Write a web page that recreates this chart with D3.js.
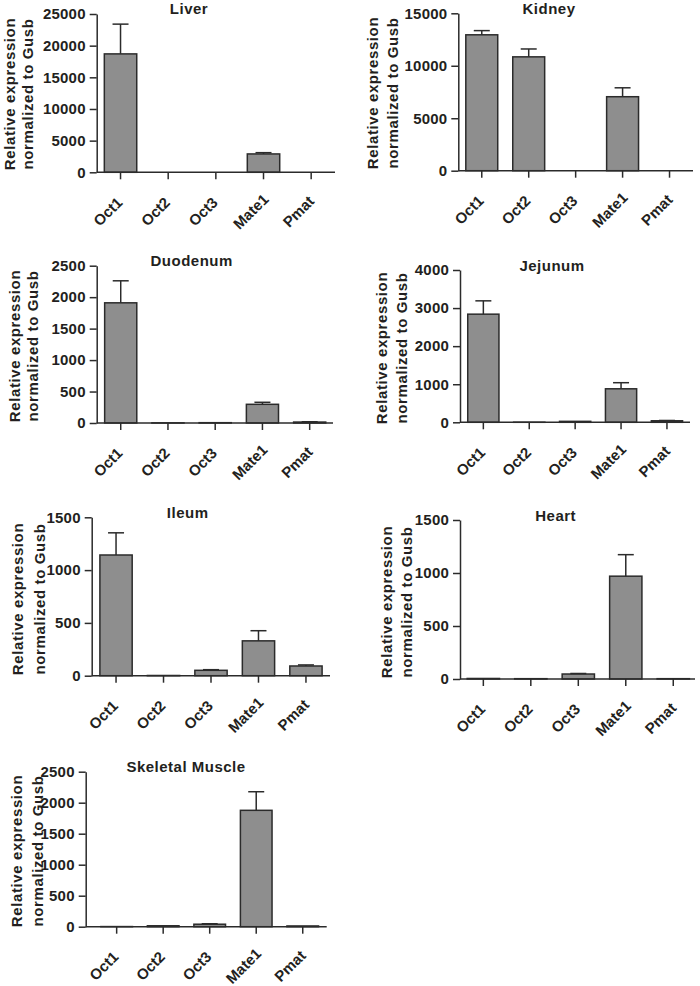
<!DOCTYPE html>
<html>
<head>
<meta charset="utf-8">
<script src="https://cdn.jsdelivr.net/npm/d3@7"></script>
<style>
  html, body { margin: 0; padding: 0; background: #fff; }
  svg text { font-family: "Liberation Sans", Arial, sans-serif; font-weight: bold; fill: #231f20; }
</style>
</head>
<body>
<svg id="chart" width="700" height="986"></svg>
<script>
// ---- data ----
const genes = ["Oct1", "Oct2", "Oct3", "Mate1", "Pmat"];
const tissues = ["Liver", "Kidney", "Duodenum", "Jejunum", "Ileum", "Heart", "Skeletal Muscle"];

const liverMean    = [18700, 0, 0, 2900, 0];
const liverSem     = [4700, 0, 0, 200, 0];
const kidneyMean   = [12950, 10850, 0, 7050, 0];
const kidneySem    = [400, 750, 0, 850, 0];
const duodenumMean = [1910, 2, 5, 297, 15];
const duodenumSem  = [350, 0, 0, 32, 5];
const jejunumMean  = [2840, 2, 25, 880, 40];
const jejunumSem   = [350, 0, 0, 160, 8];
const ileumMean    = [1143, 2, 51, 330, 92];
const ileumSem     = [210, 0, 6, 96, 10];
const heartMean    = [5, 3, 47, 970, 3];
const heartSem     = [0, 0, 5, 203, 0];
const skeletalMean = [2, 15, 40, 1877, 12];
const skeletalSem  = [0, 0, 8, 300, 0];

const yMax   = [25000, 15000, 2500, 4000, 1500, 1500, 2500];
const yStep  = [5000, 5000, 500, 1000, 500, 500, 500];
const yLabelLines = ["Relative expression", "normalized to Gusb"];

const means = [liverMean, kidneyMean, duodenumMean, jejunumMean, ileumMean, heartMean, skeletalMean];
const sems  = [liverSem, kidneySem, duodenumSem, jejunumSem, ileumSem, heartSem, skeletalSem];

// ---- layout (pixel geometry per panel) ----
const layout = [
  {ax: 96.7, axEnd: 335, bx0: 96.7, bx1: 335, yTop: 14, yZero: 172.3, tx: 189, ty: 14, lx: [15, 33], ly: 94},
  {ax: 458.3, axEnd: 693, bx0: 458.3, bx1: 693, yTop: 13.3, yZero: 170.7, tx: 549, ty: 14, lx: [378, 398], ly: 93},
  {ax: 96.7, axEnd: 333, bx0: 97.1, bx1: 333.3, yTop: 265.7, yZero: 423, tx: 191.7, ty: 266, lx: [20, 38], ly: 346},
  {ax: 460, axEnd: 690, bx0: 460.4, bx1: 689.9, yTop: 270, yZero: 422.3, tx: 552, ty: 271, lx: [386.7, 406.7], ly: 348},
  {ax: 91.7, axEnd: 330, bx0: 92.3, bx1: 329.7, yTop: 517.3, yZero: 675.7, tx: 187.7, ty: 518, lx: [23, 45], ly: 599},
  {ax: 460, axEnd: 695, bx0: 459.6, bx1: 697, yTop: 520, yZero: 679, tx: 555.7, ty: 521, lx: [391.7, 412.3], ly: 602},
  {ax: 85.7, axEnd: 326.7, bx0: 93.4, bx1: 326, yTop: 771.7, yZero: 926.7, tx: 186, ty: 772, lx: [21.7, 43.3], ly: 851}
];

const ink = "#2b2b2b";
const barFill = "#8e8e8e";
const svg = d3.select("#chart");

tissues.forEach((tissue, i) => {
  const L = layout[i];
  const g = svg.append("g");
  const x = d3.scaleBand().domain(genes).range([L.bx0, L.bx1]).paddingInner(0.32).paddingOuter(0.16);
  const y = d3.scaleLinear().domain([0, yMax[i]]).range([L.yZero, L.yTop]);

  // y axis
  const yAxis = d3.axisLeft(y)
    .tickValues(d3.range(0, yMax[i] + 1, yStep[i]))
    .tickFormat(d3.format("d"))
    .tickSize(7).tickSizeOuter(0).tickPadding(4);
  const ya = g.append("g").attr("transform", `translate(${L.ax},0)`).call(yAxis);
  ya.attr("font-family", null).attr("font-size", null);
  ya.select(".domain").attr("stroke", ink).attr("stroke-width", 1.5);
  ya.selectAll(".tick line").attr("stroke", ink).attr("stroke-width", 1.5);
  ya.selectAll(".tick text").attr("font-size", 15).attr("letter-spacing", 0.2).attr("fill", "#231f20");

  // bars
  g.selectAll("rect.bar").data(genes).join("rect")
    .attr("class", "bar")
    .attr("x", d => x(d))
    .attr("width", x.bandwidth())
    .attr("y", (d, j) => y(means[i][j]))
    .attr("height", (d, j) => L.yZero - y(means[i][j]))
    .attr("fill", barFill)
    .attr("stroke", ink)
    .attr("stroke-width", 1.5)
    .attr("display", (d, j) => means[i][j] > 0 ? null : "none");

  // error bars (upper only)
  const capHalf = 8;
  genes.forEach((gname, j) => {
    const s = sems[i][j];
    if (!s) return;
    const cx = x(gname) + x.bandwidth() / 2;
    const yt = y(means[i][j] + s);
    g.append("line").attr("x1", cx).attr("x2", cx)
      .attr("y1", y(means[i][j])).attr("y2", yt)
      .attr("stroke", ink).attr("stroke-width", 1.5);
    g.append("line").attr("x1", cx - capHalf).attr("x2", cx + capHalf)
      .attr("y1", yt).attr("y2", yt)
      .attr("stroke", ink).attr("stroke-width", 1.5);
  });

  // x axis
  const xAxis = d3.axisBottom(x).tickSize(7).tickSizeOuter(0).tickFormat("");
  const xa = g.append("g").attr("transform", `translate(0,${L.yZero})`).call(xAxis);
  xa.select(".domain").remove();
  xa.selectAll(".tick line").attr("stroke", ink).attr("stroke-width", 1.5);
  g.append("line").attr("x1", L.ax).attr("x2", L.axEnd)
    .attr("y1", L.yZero).attr("y2", L.yZero)
    .attr("stroke", ink).attr("stroke-width", 1.5);

  // rotated category labels
  g.selectAll("text.xl").data(genes).join("text")
    .attr("class", "xl")
    .attr("text-anchor", "middle")
    .attr("font-size", 15)
    .attr("transform", d => `translate(${x(d) + x.bandwidth() / 2 - 9},${L.yZero + 43}) rotate(-45)`)
    .text(d => d);

  // title
  g.append("text")
    .attr("x", L.tx).attr("y", L.ty)
    .attr("text-anchor", "middle")
    .attr("font-size", 15)
    .attr("letter-spacing", 0.5)
    .text(tissue);

  // y label (two lines)
  yLabelLines.forEach((line, k) => {
    g.append("text")
      .attr("transform", `translate(${L.lx[k]},${L.ly}) rotate(-90)`)
      .attr("text-anchor", "middle")
      .attr("font-size", 15)
      .attr("letter-spacing", 0.6)
      .text(line);
  });
});
</script>
</body>
</html>
